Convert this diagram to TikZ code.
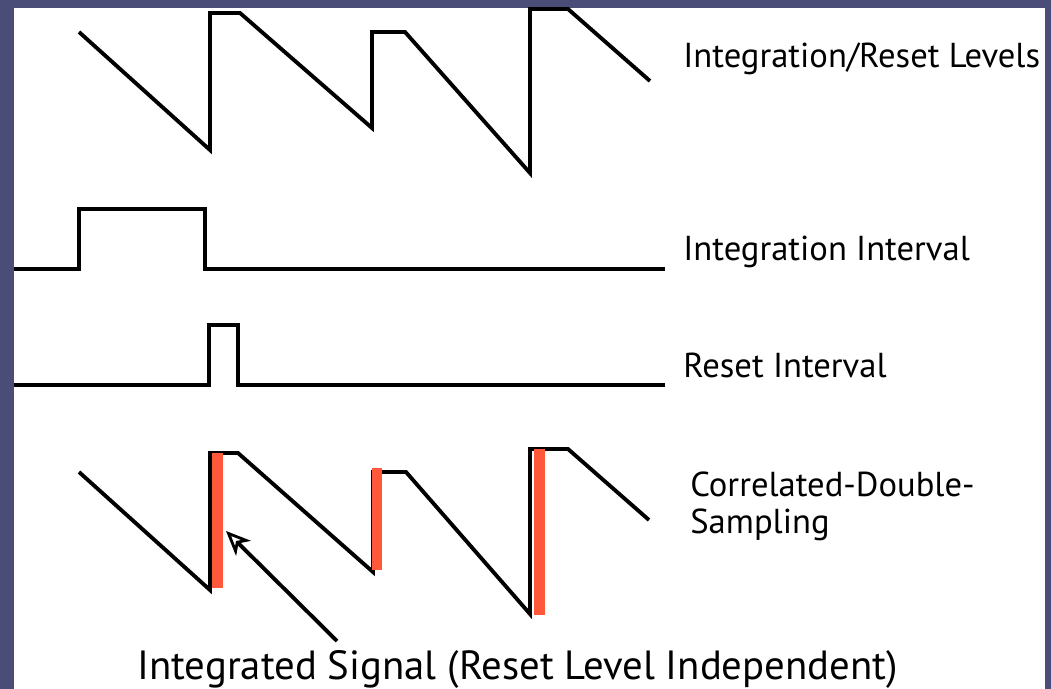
\documentclass[tikz,border=0pt]{standalone}
\usepackage{fontspec}
\setmainfont{PT Sans}
\usetikzlibrary{arrows.meta}
\definecolor{framebg}{RGB}{74,77,120}
\definecolor{cdsred}{RGB}{255,88,58}

\begin{document}
\begin{tikzpicture}[x=0.02cm, y=-0.02cm,
    wave/.style={line width=2.2pt, line join=miter},
    cdsbar/.style={fill=cdsred, draw=none},
    lbl/.style={anchor=base west, inner sep=0pt, font=\fontsize{19.7}{24}\selectfont}]
    \useasboundingbox (0,0) rectangle (1051,689);
    \fill[framebg] (0,0) rectangle (1051,689);
    \fill[white] (14,8) rectangle (1045,689);

    % integration / reset levels
    \draw[wave] (79,32) -- (210,150) -- (210,13) -- (240,13) -- (372,128) -- (372,32)
        -- (405,32) -- (530,173) -- (530,9) -- (568,9) -- (650,81);

    % integration interval
    \draw[wave] (14,269) -- (79,269) -- (79,209) -- (205,209) -- (205,269) -- (665,269);

    % reset interval
    \draw[wave] (14,385) -- (209,385) -- (209,325) -- (238,325) -- (238,385) -- (665,385);

    % correlated double sampling
    \draw[wave] (79,472) -- (210,590) -- (210,453) -- (238,453) -- (373,572) -- (373,472)
        -- (406,472) -- (530,614) -- (530,449) -- (568,449) -- (649,520);
    \fill[cdsbar] (212,453) rectangle (223,588);
    \fill[cdsbar] (372,468) rectangle (382,570);
    \fill[cdsbar] (534,449) rectangle (545,615);

    \node[lbl] (lvl) at (683,68) {Integration/Reset Levels};
    \node[lbl] (intv) at (683,260) {Integration Interval};
    \node[lbl] (rstv) at (683,377) {Reset Interval};
    \node[lbl] (cdsa) at (690,496) {Correlated-Double-};
    \node[lbl] (cdsb) at (690,533) {Sampling};
    \node[lbl, font=\fontsize{23.2}{28}\selectfont] (sig) at (137,679.5) {Integrated Signal (Reset Level Independent)};

    \coordinate (sigtail) at (337,641);
    \coordinate (sigtip) at (226,531);
    \draw[wave, -{Stealth[open, length=14pt, width=12pt, inset=4pt, line width=1.6pt]}] (sigtail) -- (sigtip);
\end{tikzpicture}
\end{document}
